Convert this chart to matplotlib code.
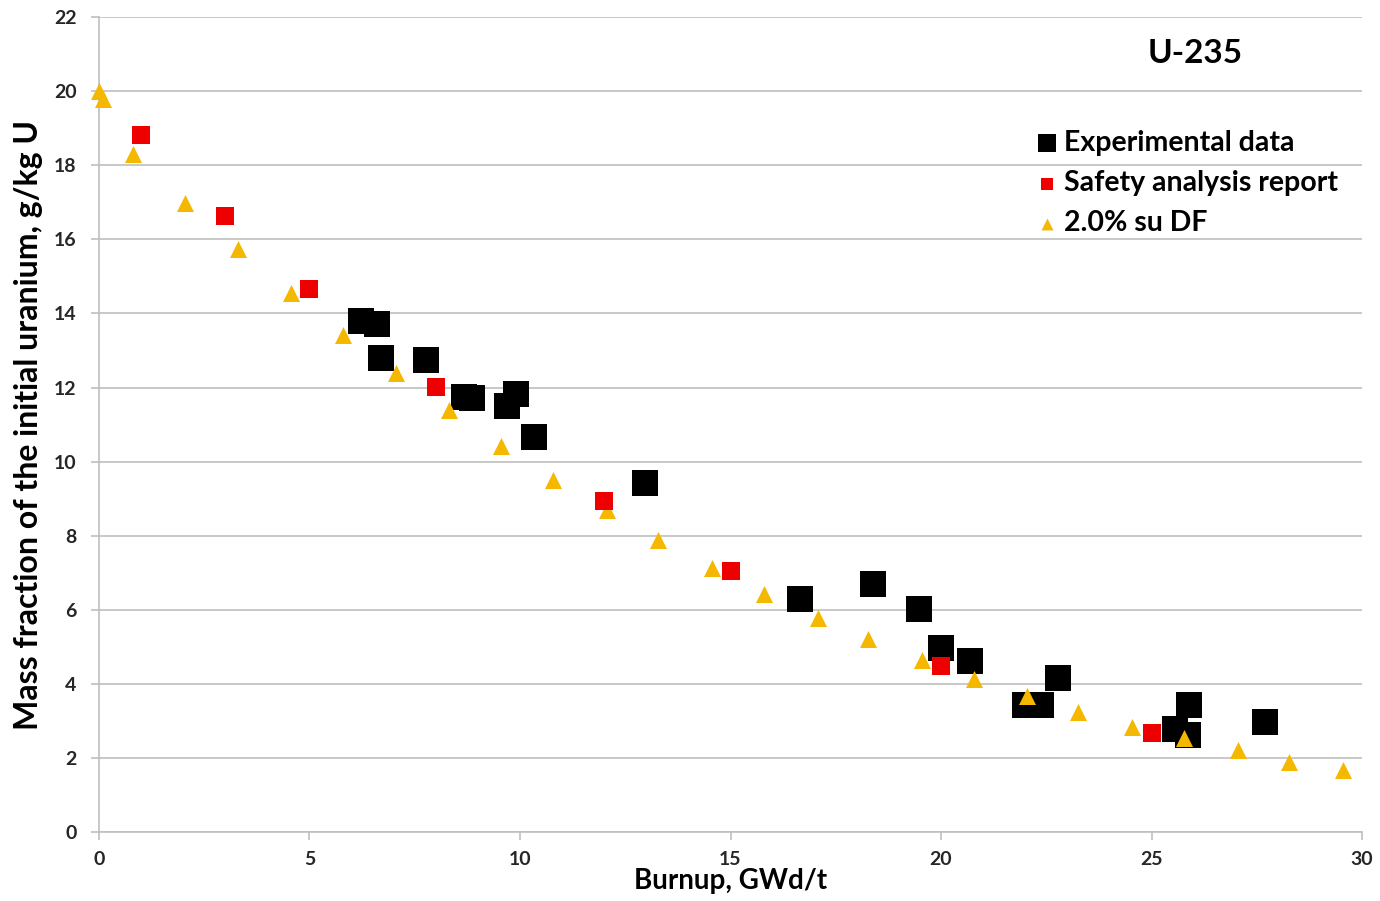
import matplotlib
matplotlib.use("Agg")
import matplotlib.pyplot as plt

plt.rcParams['font.family'] = ['Lato', 'DejaVu Sans']
plt.rcParams['font.weight'] = 'bold'

# experimental data (burnup GWd/t, U-235 g/kg U)
expBurnup = [6.22, 6.60, 6.70, 7.77, 8.67, 8.86, 9.69, 9.90, 10.33, 12.97,
             16.65, 18.38, 19.48, 20.0, 20.69, 22.0, 22.38, 22.78, 25.56, 25.89, 25.87, 27.70]
expU235 = [13.79, 13.71, 12.79, 12.74, 11.74, 11.71, 11.50, 11.82, 10.66, 9.42,
           6.29, 6.69, 6.02, 4.97, 4.62, 3.43, 3.43, 4.16, 2.78, 3.43, 2.62, 2.97]

# safety analysis report
sarBurnup = [1, 3, 5, 8, 12, 15, 20, 25]
sarU235 = [18.81, 16.63, 14.66, 12.01, 8.93, 7.04, 4.48, 2.67]

# 2.0% su DF calculation
dfBurnup = [0.0, 0.1, 0.81, 2.04, 3.30, 4.56, 5.80, 7.05, 8.31, 9.55, 10.78, 12.07, 13.28,
            14.56, 15.80, 17.08, 18.27, 19.55, 20.78, 22.04, 23.25, 24.54, 25.77, 27.05, 28.27, 29.55]
dfU235 = [20.0, 19.78, 18.3, 16.98, 15.74, 14.55, 13.41, 12.39, 11.39, 10.42, 9.50, 8.69, 7.88,
          7.13, 6.42, 5.78, 5.21, 4.64, 4.13, 3.67, 3.24, 2.83, 2.54, 2.21, 1.89, 1.67]

xTicks = [0, 5, 10, 15, 20, 25, 30]
yTicks = list(range(0, 23, 2))

fig = plt.figure(figsize=(13.8, 9.01), dpi=100)
ax = fig.add_axes([0.0717, 0.0766, 0.9153, 0.9044])

ax.scatter(dfBurnup, dfU235, marker="^", s=150, color="#F5B800", linewidths=0, zorder=3,
           clip_on=False, label="2.0% su DF")
ax.scatter(sarBurnup, sarU235, marker="s", s=150, color="#EE0000", linewidths=0, zorder=4,
           clip_on=False, label="Safety analysis report")
ax.scatter(expBurnup, expU235, marker="s", s=330, color="black", linewidths=0, zorder=2,
           clip_on=False, label="Experimental data")

ax.set_xlim(0, 30)
ax.set_ylim(0, 22)
ax.set_xticks(xTicks)
ax.set_yticks(yTicks)
ax.yaxis.grid(True, color="#BFBFBF", linewidth=1.2)
ax.set_axisbelow(True)
for s in ["top", "right"]:
    ax.spines[s].set_visible(False)
for s in ["left", "bottom"]:
    ax.spines[s].set_color("#BFBFBF")
    ax.spines[s].set_linewidth(1.2)
ax.tick_params(colors="#BFBFBF", labelcolor="#262626", labelsize=14, length=6, width=1.2)
ax.tick_params(axis="x", pad=8)
ax.tick_params(axis="y", pad=10)

ax.set_xlabel("Burnup, GWd/t", fontsize=20, fontweight="bold", labelpad=0)
ax.set_ylabel("Mass fraction of the initial uranium, g/kg U", fontsize=23, fontweight="bold", labelpad=8)

ax.text(0.868, 0.955, "U-235", transform=ax.transAxes, fontsize=24, fontweight="bold", ha="center", va="center")

h, l = ax.get_legend_handles_labels()
ax.legend(h[::-1], l[::-1], loc="upper left", bbox_to_anchor=(0.717, 0.893), frameon=False,
          fontsize=20.5, handletextpad=0.0, handlelength=1.2, labelspacing=0.5, markerscale=0.7)

plt.savefig("out.png", dpi=100)
